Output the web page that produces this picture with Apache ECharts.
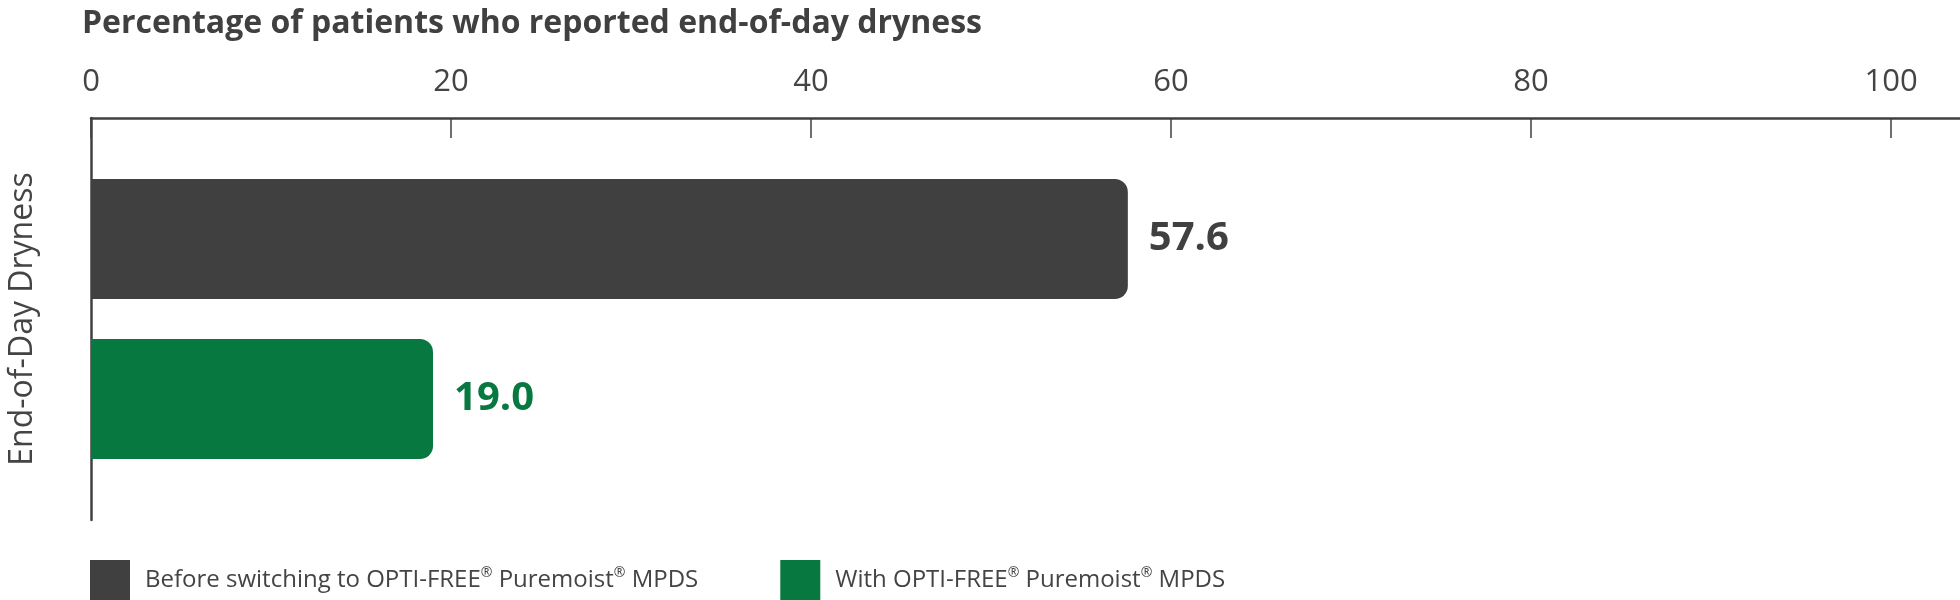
<!DOCTYPE html>
<html>
<head>
<meta charset="utf-8">
<script src="https://cdn.jsdelivr.net/npm/echarts@6/dist/echarts.min.js"></script>
<style>
html,body{margin:0;padding:0;background:#fff;}
#chart{width:1960px;height:600px;}
</style>
</head>
<body>
<div id="chart"></div>
<script>
var titleText = 'Percentage of patients who reported end-of-day dryness';
var categories = ['End-of-Day Dryness'];
var seriesNames = ['Before switching to OPTI-FREE\u00ae Puremoist\u00ae MPDS', 'With OPTI-FREE\u00ae Puremoist\u00ae MPDS'];
var beforeValues = [57.6];
var withValues = [19.0];
var tickValues = [0, 20, 40, 60, 80, 100];

var dark = '#404040';
var green = '#07783f';
var font = '"Open Sans", "Noto Sans", sans-serif';

var chart = echarts.init(document.getElementById('chart'));
chart.setOption({
  animation: false,
  textStyle: { fontFamily: font },
  title: {
    text: titleText,
    left: 77,
    top: 3,
    textStyle: { fontFamily: font, fontSize: 32, fontWeight: 'bold', color: dark }
  },
  legend: {
    left: 90,
    bottom: 0,
    padding: 0,
    itemWidth: 40,
    itemHeight: 40,
    itemGap: 82,
    icon: 'rect',
    formatter: function (name) { return name.replace(/\u00ae/g, '{sup|\u00ae}'); },
    textStyle: {
      fontFamily: font, fontSize: 24, color: '#444', padding: [0, 0, 0, 10],
      rich: { sup: { fontFamily: font, fontSize: 14, color: '#444', padding: [0, 0, 14, 0] } }
    },
    data: seriesNames
  },
  grid: { left: 91, right: 0, top: 118, bottom: 80, containLabel: false, outerBoundsMode: 'none' },
  xAxis: {
    type: 'value',
    position: 'top',
    min: 0,
    max: 103.83,
    interval: 20,
    axisLine: { show: true, lineStyle: { color: dark, width: 2.5 } },
    axisTick: { show: true, inside: true, length: 20, lineStyle: { color: dark, width: 1.5 }, customValues: tickValues },
    axisLabel: {
      customValues: tickValues,
      fontFamily: font, fontSize: 31, fontWeight: 'normal', color: '#444', margin: 20,
      formatter: function (v) { return (v % 20 === 0) ? String(v) : ''; }
    },
    splitLine: { show: false }
  },
  yAxis: {
    type: 'category',
    inverse: true,
    data: categories,
    name: categories[0],
    nameLocation: 'middle',
    nameRotate: 90,
    nameGap: 52,
    nameTextStyle: { fontFamily: font, fontSize: 32, fontWeight: 'normal', color: '#444' },
    axisLine: { show: true, lineStyle: { color: dark, width: 2.5 } },
    axisTick: { show: false },
    axisLabel: { show: false }
  },
  series: [
    {
      name: seriesNames[0],
      type: 'bar',
      data: beforeValues,
      barWidth: 120,
      barGap: '33.33%',
      itemStyle: { color: dark, borderRadius: [0, 13, 13, 0] },
      label: {
        show: true, position: 'right', distance: 21,
        fontFamily: font, fontSize: 40, fontWeight: 'bold', color: dark,
        formatter: function (p) { return p.value.toFixed(1); }
      }
    },
    {
      name: seriesNames[1],
      type: 'bar',
      data: withValues,
      barWidth: 120,
      barGap: '33.33%',
      itemStyle: { color: green, borderRadius: [0, 13, 13, 0] },
      label: {
        show: true, position: 'right', distance: 21,
        fontFamily: font, fontSize: 40, fontWeight: 'bold', color: green,
        formatter: function (p) { return p.value.toFixed(1); }
      }
    }
  ]
});
</script>
</body>
</html>
